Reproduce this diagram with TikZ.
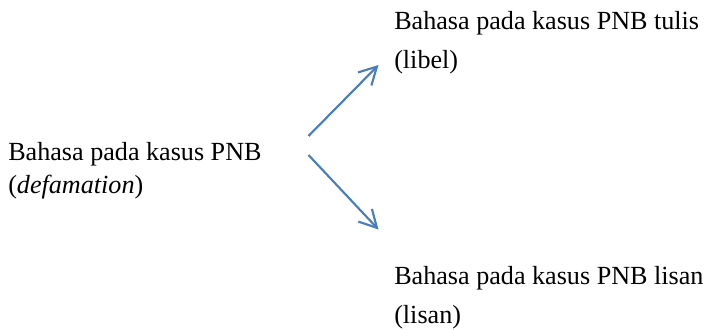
\documentclass[tikz,border=0pt]{standalone}
\usepackage{fontspec}
\setmainfont{Liberation Serif}
\usetikzlibrary{arrows.meta}
\definecolor{arrowblue}{HTML}{4A7EBB}
\tikzset{
  % anchored on the baseline of the last line of each block
  label text/.style={anchor=base west, inner sep=0pt, align=left},
  branch/.style={draw=arrowblue, line width=1.6pt,
    -{Straight Barb[length=13pt, width=14pt, line width=1.6pt]}}
}
\begin{document}
\begin{tikzpicture}[x=0.75pt, y=-0.75pt]
  \useasboundingbox (0,0) rectangle (709,329);
  % source term on the left
  \node[label text, font=\fontsize{19.6pt}{24.8pt}\selectfont] (src) at (8,193.5)
    {Bahasa pada kasus PNB\\(\textit{defamation})};
  % written and spoken branches on the right
  \node[label text, font=\fontsize{19.6pt}{29.3pt}\selectfont] (libel) at (394,68.5)
    {Bahasa pada kasus PNB tulis\\(libel)};
  \node[label text, font=\fontsize{19.6pt}{29pt}\selectfont] (lisan) at (394,323.5)
    {Bahasa pada kasus PNB lisan\\(lisan)};
  % arrow end points
  \coordinate (upStart) at (308.5,136);
  \coordinate (upEnd) at (378.5,65);
  \coordinate (downStart) at (308.5,155);
  \coordinate (downEnd) at (378.5,229.5);
  \draw[branch] (upStart) -- (upEnd);
  \draw[branch] (downStart) -- (downEnd);
\end{tikzpicture}
\end{document}
